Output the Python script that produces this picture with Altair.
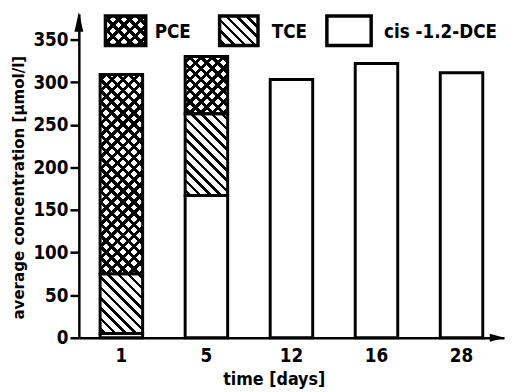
import altair as alt
import numpy as np
import pandas as pd

# ---- data ----
days = ["1", "5", "12", "16", "28"]
dce = [5, 167, 303, 322, 311]
tce = [70, 96, 0, 0, 0]
pce = [234, 67, 0, 0, 0]
species = ["cis -1.2-DCE", "TCE", "PCE"]
y_ticks = [0, 50, 100, 150, 200, 250, 300, 350]

# ---- layout / style constants ----
W, H = 432, 329
Y_MAX = 380
PAD_IN, PAD_OUT = 0.5, 0.25
FONT = "Liberation Sans Narrow, DejaVu Sans Condensed, sans-serif"
STEP = W / (len(days) - PAD_IN + 2 * PAD_OUT)
BAND = STEP * (1 - PAD_IN)
PXU = H / Y_MAX

rows = []
for i, d in enumerate(days):
    start = 0
    for sp, vals in zip(species, [dce, tce, pce]):
        v = vals[i]
        if v > 0:
            rows.append({"day": d, "species": sp, "start": start, "end": start + v})
            start += v
seg = pd.DataFrame(rows)


def GS(o, c):
    return alt.GradientStop(offset=round(float(o), 5), color=c)


def hatch(w, h, period, lw, kind, ink="black", gap="rgba(255,255,255,0)"):
    span = w + h
    k = span / (w * w + h * h)
    if kind == "back":
        x1, y1, x2, y2 = 0.0, 1.0, w * k, 1.0 - h * k
    else:
        x1, y1, x2, y2 = 0.0, 0.0, w * k, h * k
    per = period * np.sqrt(2) / span
    half = lw * np.sqrt(2) / span / 2
    stops = [GS(0.0, gap)]
    c = per / 2
    while c - half < 1:
        a = max(c - half, 0.0)
        b = min(c + half, 1.0)
        stops += [GS(a, gap), GS(a, ink), GS(b, ink), GS(b, gap)]
        c += per
    stops.append(GS(1.0, gap))
    return alt.LinearGradient(gradient="linear", stops=stops,
                              x1=round(x1, 5), y1=round(y1, 5),
                              x2=round(x2, 5), y2=round(y2, 5))


def patterns(sp, w, h):
    if sp == "PCE":
        return [hatch(w, h, 8.0, 3.2, "fwd"), hatch(w, h, 8.0, 3.2, "back")]
    if sp == "TCE":
        return [hatch(w, h, 7.4, 2.6, "back")]
    return []


x_axis = alt.Axis(title="time [days]", labelAngle=0, ticks=False,
                  labelPadding=9, labelFontSize=19, labelFontWeight="bold",
                  titleX=198, titleY=47, titleBaseline="alphabetic",
                  titleFontSize=18, titleFontWeight="bold")
y_axis = alt.Axis(values=y_ticks, title="average concentration [µmol/l]",
                  tickSize=9, tickWidth=2.5, labelPadding=2,
                  labelFontSize=19, labelFontWeight="bold",
                  titleX=-61, titleY=176, titleBaseline="middle",
                  titleFontSize=17, titleFontWeight="bold")
xenc = alt.X("day:N", sort=days,
             scale=alt.Scale(paddingInner=PAD_IN, paddingOuter=PAD_OUT),
             axis=x_axis)
yenc = alt.Y("start:Q", scale=alt.Scale(domain=[0, Y_MAX], nice=False), axis=y_axis)
y2enc = alt.Y2("end:Q")

layers = []
# white base fill
layers.append(alt.Chart(seg).mark_bar(fill="white", strokeWidth=0).encode(
    x=xenc, y=yenc, y2=y2enc))

# hatch overlays
for idx, r in seg.iterrows():
    h = (r["end"] - r["start"]) * PXU
    for g in patterns(r["species"], BAND, h):
        layers.append(
            alt.Chart(seg.iloc[[idx]]).mark_bar(fill=g, strokeWidth=0).encode(
                x=xenc, y=yenc, y2=y2enc))

# outlines
layers.append(alt.Chart(seg).mark_bar(fill="white", fillOpacity=0, stroke="black",
                                      strokeWidth=3).encode(x=xenc, y=yenc, y2=y2enc))

# axis arrowheads
one = pd.DataFrame({"a": [0]})
layers.append(alt.Chart(one).mark_point(shape="M0,-1L0.45,1L-0.45,1Z", filled=True,
                                        color="black", opacity=1, size=400).encode(
    x=alt.value(0), y=alt.value(8)))
layers.append(alt.Chart(one).mark_point(shape="M1,0L-1,0.55L-1,-0.55Z", filled=True,
                                        color="black", opacity=1, size=225).encode(
    x=alt.value(425), y=alt.value(H)))

# legend (drawn inside the plot, at the top)
legend_boxes = {"PCE": (27, 68), "TCE": (143, 182), "cis -1.2-DCE": (252, 297)}
legend_text_x = {"PCE": 77, "TCE": 196, "cis -1.2-DCE": 310}
LY0, LY1 = 2, 32
for sp in ["PCE", "TCE", "cis -1.2-DCE"]:
    x0, x1 = legend_boxes[sp]
    enc = dict(x=alt.value(x0), x2=alt.value(x1), y=alt.value(LY0), y2=alt.value(LY1))
    layers.append(alt.Chart(one).mark_rect(fill="white", strokeWidth=0).encode(**enc))
    for g in patterns(sp, x1 - x0, LY1 - LY0):
        layers.append(alt.Chart(one).mark_rect(fill=g, strokeWidth=0).encode(**enc))
    layers.append(alt.Chart(one).mark_rect(fill="white", fillOpacity=0, stroke="black",
                                           strokeWidth=3.5).encode(**enc))
    layers.append(alt.Chart(pd.DataFrame({"label": [sp]})).mark_text(
        align="left", baseline="middle", font=FONT, fontSize=19, fontWeight="bold",
        color="black").encode(x=alt.value(legend_text_x[sp]), y=alt.value(18),
                              text="label:N"))

chart = alt.layer(*layers).properties(
    width=W, height=H, autosize="none",
    padding={"left": 72, "top": 3, "right": 2, "bottom": 51},
    background="white",
).configure_view(stroke=None).configure_axis(
    domainColor="black", domainWidth=2.5, tickColor="black", labelColor="black",
    titleColor="black", grid=False, labelFont=FONT, titleFont=FONT,
)

chart.save("out.html", embed_options={"renderer": "svg", "actions": False})
